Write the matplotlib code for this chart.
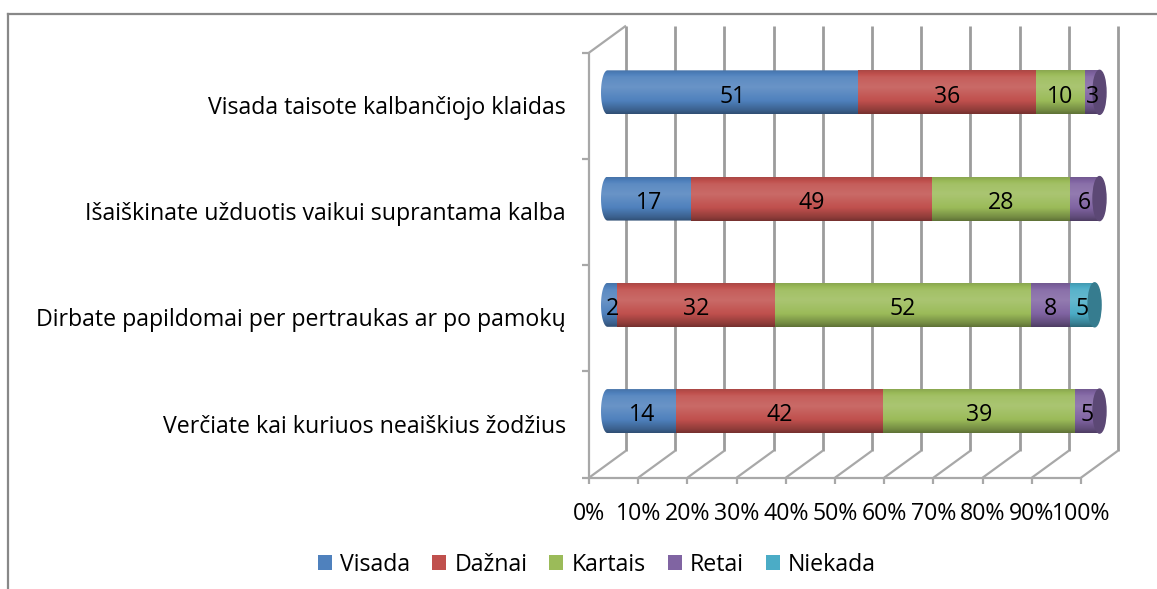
import numpy as np
import matplotlib.pyplot as plt
from matplotlib.patches import Ellipse, Patch, Polygon
from matplotlib.lines import Line2D
from matplotlib.colors import to_rgb

plt.rcParams['font.family'] = ['Open Sans', 'DejaVu Sans']

# categories bottom -> top
CATEGORIES = [
    'Verčiate kai kuriuos neaiškius žodžius',
    'Dirbate papildomai per pertraukas ar po pamokų',
    'Išaiškinate užduotis vaikui suprantama kalba',
    'Visada taisote kalbančiojo klaidas',
]
SERIES = ['Visada', 'Dažnai', 'Kartais', 'Retai', 'Niekada']
VISADA = [14, 2, 17, 51]
DAZNAI = [42, 32, 49, 36]
KARTAIS = [39, 52, 28, 10]
RETAI = [5, 8, 6, 3]
NIEKADA = [0, 5, 0, 0]
VALUES = [VISADA, DAZNAI, KARTAIS, RETAI, NIEKADA]
COLORS = ['#4F81BD', '#C0504D', '#9BBB59', '#8064A2', '#4BACC6']
TICKS = list(range(0, 101, 10))

FS = 16.7

W, H = 1157, 589
fig = plt.figure(figsize=(W / 100, H / 100), dpi=100)
# front plane of the 3-D plot area (pixels: x 589..1081, y 52.7..477.7 from top)
x0, x1, ytop, ybot = 589, 1081, 52.7, 477.7
ax = fig.add_axes([x0 / W, 1 - ybot / H, (x1 - x0) / W, (ybot - ytop) / H])
ax.set_axis_off()

pxx = (x1 - x0) / 100.0          # px per percent
pxy = (ybot - ytop) / 4.0        # px per category
dx = 37 / pxx                    # depth offset (data units)
dy = 27 / pxy
grid_c = '#9c9c9c'
kw = dict(clip_on=False, solid_capstyle='butt')

# back wall gridlines and floor
for t in TICKS:
    ax.plot([t + dx, t + dx], [-0.5 + dy, 3.5 + dy], color=grid_c, lw=2.0, zorder=1, **kw)
    ax.plot([t, t + dx], [-0.5, -0.5 + dy], color='#a8a8a8', lw=1.6, zorder=1, **kw)
    ax.plot([t, t], [-0.5, -0.5 - 6 / pxy], color='#a8a8a8', lw=1.6, zorder=1, **kw)
    ax.text(t, -0.5 - 36 / pxy, f'{t}%', ha='center', va='center', fontsize=FS)
ax.plot([0, 100], [-0.5, -0.5], color='#a8a8a8', lw=1.6, zorder=1, **kw)

# left (category) axis
ax.plot([0, 0], [-0.5, 3.5], color='#a8a8a8', lw=1.6, zorder=1, **kw)
ax.plot([0, dx], [3.5, 3.5 + dy], color='#a8a8a8', lw=1.6, zorder=1, **kw)
for k in range(5):
    ax.plot([0, -7 / pxx], [k - 0.5, k - 0.5], color='#a8a8a8', lw=1.6, zorder=1, **kw)
for i, cat in enumerate(CATEGORIES):
    ax.text(-23 / pxx, i - 0.02, cat, ha='right', va='center', fontsize=FS)


def shade(color, f):
    c = np.array(to_rgb(color))
    if f >= 1:
        return c + (1 - c) * (f - 1)
    return c * f


prof_t = np.linspace(0, 1, 40)
prof_f = np.interp(prof_t, [0, 0.08, 0.3, 0.62, 0.85, 1.0],
                   [0.62, 0.75, 1.0, 1.15, 1.08, 0.9])

bh = 44 / pxy
rx = 13 / pxx
for i in range(len(CATEGORIES)):
    yc = i + dy / 2
    left = dx / 2
    segs = [(v[i], COLORS[j]) for j, v in enumerate(VALUES) if v[i] > 0]
    for k, (val, col) in enumerate(segs):
        img = np.array([shade(col, f) for f in prof_f])[:, None, :]
        if k == 0:
            im = ax.imshow(img, extent=[left - rx / 2, left + val, yc - bh / 2, yc + bh / 2],
                           origin='lower', aspect='auto', interpolation='bilinear',
                           zorder=3)
            # rounded left end of the cylinder
            ang = np.linspace(np.pi / 2, 3 * np.pi / 2, 30)
            verts = [(left + rx / 2 * np.cos(a), yc + bh / 2 * np.sin(a)) for a in ang]
            verts += [(left + val, yc - bh / 2), (left + val, yc + bh / 2)]
            im.set_clip_path(Polygon(verts, closed=True, transform=ax.transData))
        else:
            ax.imshow(img, extent=[left, left + val, yc - bh / 2, yc + bh / 2],
                      origin='lower', aspect='auto', interpolation='bilinear',
                      zorder=3, clip_on=False)
        ax.text(left + val / 2, yc - 0.04, str(val), ha='center', va='center',
                fontsize=FS, zorder=5)
        left += val
    end_col = segs[-1][1]
    ax.add_patch(Ellipse((left, yc), rx, bh, color=shade(end_col, 0.72),
                         zorder=4, clip_on=False))

ax.set_xlim(0, 100)
ax.set_ylim(-0.5, 3.5)

# chart border
fig.add_artist(Line2D([8 / W, 8 / W], [0, 1 - 14 / H], color='#888888', lw=1.6,
                      transform=fig.transFigure))
fig.add_artist(Line2D([8 / W, 1], [1 - 14 / H, 1 - 14 / H], color='#888888', lw=1.6,
                      transform=fig.transFigure))

handles = [Patch(facecolor=c, edgecolor='none') for c in COLORS]
fig.legend(handles, SERIES, loc='center', bbox_to_anchor=(597 / W, 1 - 565 / H),
           ncol=5, frameon=False, fontsize=FS, handlelength=0.6, handleheight=0.6,
           handletextpad=0.35, columnspacing=0.95)

fig.savefig('out.png', dpi=100)
